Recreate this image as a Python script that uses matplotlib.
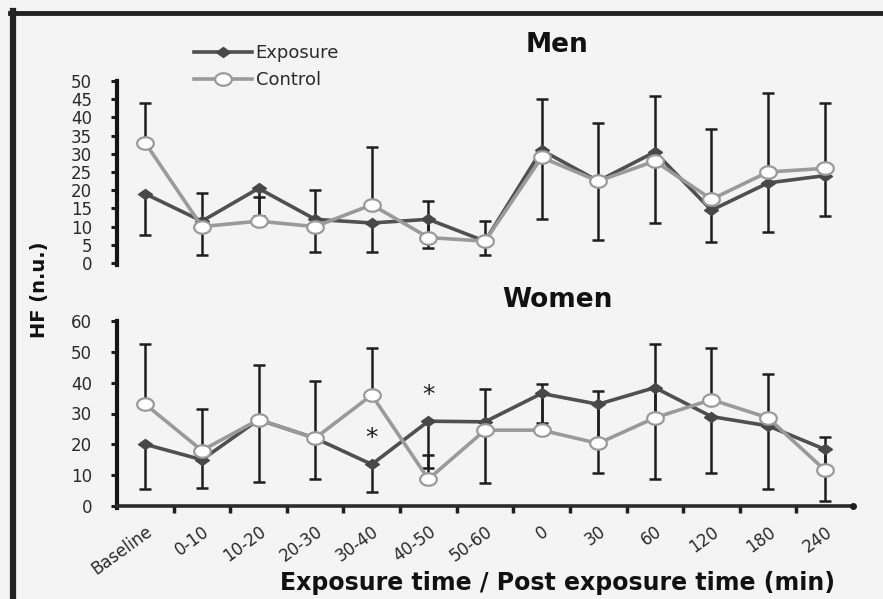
import numpy as np
import matplotlib
matplotlib.use("Agg")
import matplotlib.pyplot as plt
from matplotlib.path import Path
from matplotlib.lines import Line2D

# categories along x
labels = ["Baseline", "0-10", "10-20", "20-30", "30-40", "40-50", "50-60",
          "0", "30", "60", "120", "180", "240"]

# Men, HF (n.u.)
men_exposure = [19, 11.5, 20.5, 12, 11, 12, 6, 31, 22.5, 30.5, 14.5, 22, 24]
men_exposure_sd = [11.3, 9.3, 7.5, 9, 8, 8, 3.8, 19, 16.2, 19.5, 8.7, 13.6, 11.1]
men_control = [33, 10, 11.5, 10, 16, 7, 6, 29, 22.5, 28, 17.5, 25, 26]
men_control_sd = [11, 9.3, 6.5, 10, 16, 10, 5.5, 16, 16, 18, 19.3, 21.7, 17.9]

# Women, HF (n.u.)
women_exposure = [20, 15, 28, 22, 13.5, 27.5, 27.3, 36.5, 33, 38.4, 29, 26, 18.4]
women_exposure_sd = [14.5, 9, 20.3, 13.3, 8.9, 15.3, 19.7, 9.5, 22.2, 29.8, 18.2, 20.6, 16.7]
women_control = [33, 18, 28, 22, 36, 8.7, 24.6, 24.6, 20.3, 28.6, 34.5, 28.6, 11.7]
women_control_sd = [19.6, 13.6, 17.6, 18.6, 15.3, 7.8, 13.3, 14.9, 16.9, 24, 16.7, 14.3, 10.7]

# significance marks (category index, height)
women_stars = [(4, 22), (5, 36)]

plt.rcParams["font.family"] = ["DejaVu Sans"]

W, H = 883, 599
bg = "#f4f4f4"
exp_col = "#505050"
ctl_col = "#9a9a9a"
txt_col = "#2a2a2a"

# flattened markers (the source image is stretched sideways)
diamond = Path([(-1, 0), (0, 0.72), (1, 0), (0, -0.72), (-1, 0)],
               [Path.MOVETO, Path.LINETO, Path.LINETO, Path.LINETO, Path.CLOSEPOLY])
t = np.linspace(0, 2 * np.pi, 60)
ellipse = Path(np.column_stack([np.cos(t), 0.75 * np.sin(t)]))

fig = plt.figure(figsize=(W / 100, H / 100), dpi=100, facecolor=bg)

# outer frame (top and left edges only visible)
fig.add_artist(Line2D([10 / W, 1], [1 - 13 / H, 1 - 13 / H], color="#222222", lw=3.5))
fig.add_artist(Line2D([13 / W, 13 / W], [0, 1 - 11 / H], color="#222222", lw=4.5))

ax_men = fig.add_axes([117 / W, (H - 263) / H, (853 - 117) / W, 182 / H])
ax_women = fig.add_axes([117 / W, (H - 506) / H, (853 - 117) / W, 185 / H])

x = np.arange(len(labels))


def draw_panel(ax, exp, exp_sd, ctl, ctl_sd, ymax, ystep):
    ax.set_facecolor(bg)
    zeros = np.zeros(len(x))
    # exposure: lower bars, control: upper bars
    ax.errorbar(x, exp, yerr=[exp_sd, zeros], fmt="none", ecolor="#1e1e1e",
                elinewidth=1.8, capsize=4.5, capthick=1.8, zorder=2)
    ax.errorbar(x, ctl, yerr=[zeros, ctl_sd], fmt="none", ecolor="#1e1e1e",
                elinewidth=1.8, capsize=4.5, capthick=1.8, zorder=2)
    ax.plot(x, exp, color=exp_col, lw=2.6, marker=diamond, ms=10,
            mfc="#484848", mec="#484848", zorder=3)
    ax.plot(x, ctl, color=ctl_col, lw=2.6, marker=ellipse, ms=12,
            mfc="white", mec=ctl_col, mew=1.6, zorder=4)
    ax.set_xlim(-0.5, 12.5)
    ax.set_ylim(0, ymax)
    ax.set_yticks(np.arange(0, ymax + 1, ystep))
    ax.tick_params(axis="y", direction="out", length=4, width=2.2,
                   color="#1e1e1e", labelsize=12, labelcolor=txt_col, pad=14)
    for s in ["top", "right"]:
        ax.spines[s].set_visible(False)
    ax.spines["left"].set_linewidth(3)
    ax.spines["left"].set_color("#151515")
    ax.spines["left"].set_bounds(-0.6, ymax)


draw_panel(ax_men, men_exposure, men_exposure_sd, men_control, men_control_sd, 50, 5)
draw_panel(ax_women, women_exposure, women_exposure_sd, women_control, women_control_sd, 60, 10)

# men: no x axis
ax_men.spines["bottom"].set_visible(False)
ax_men.set_xticks([])

# women: x axis with ticks between categories
ax_women.spines["bottom"].set_linewidth(2.6)
ax_women.spines["bottom"].set_color("#2b2b2b")
ax_women.spines["bottom"].set_capstyle("round")
ax_women.set_xticks(x)
ax_women.set_xticklabels(labels, rotation=36, ha="right", rotation_mode="anchor",
                         fontsize=12, color=txt_col)
ax_women.tick_params(axis="x", which="major", length=0, pad=12)
ax_women.set_xticks(x[:-1] + 0.5, minor=True)
ax_women.tick_params(axis="x", which="minor", direction="out", length=5, width=2.5,
                     color="#1e1e1e")
ax_women.plot([12.5], [0], "o", ms=4, color="#1e1e1e", clip_on=False, zorder=5)

for i, yv in women_stars:
    ax_women.text(i, yv, "*", ha="center", va="center", fontsize=18,
                  color="#1e1e1e", zorder=6)

# titles and labels
fig.text(557 / W, 1 - 45 / H, "Men", ha="center", va="center",
         fontsize=19, fontweight="bold", color="#111111")
fig.text(557 / W, 1 - 300 / H, "Women", ha="center", va="center",
         fontsize=19, fontweight="bold", color="#111111")
fig.text(40 / W, 1 - 290 / H, "HF (n.u.)", rotation=90, ha="center", va="center",
         fontsize=14, fontweight="bold", color="#111111")
fig.text(557 / W, 1 - 583 / H, "Exposure time / Post exposure time (min)",
         ha="center", va="center", fontsize=17, fontweight="bold", color="#111111")

# legend
handles = [
    Line2D([], [], color=exp_col, lw=2.6, marker=diamond, ms=10,
           mfc="#484848", mec="#484848"),
    Line2D([], [], color=ctl_col, lw=2.6, marker=ellipse, ms=12,
           mfc="white", mec=ctl_col, mew=1.6),
]
fig.legend(handles, ["Exposure", "Control"], loc="upper left",
           bbox_to_anchor=(178 / W, 1 - 28 / H), frameon=False, fontsize=13,
           handlelength=3.2, handletextpad=0.2, labelspacing=0.5, labelcolor=txt_col)

fig.savefig("out.png", dpi=100, facecolor=bg)
